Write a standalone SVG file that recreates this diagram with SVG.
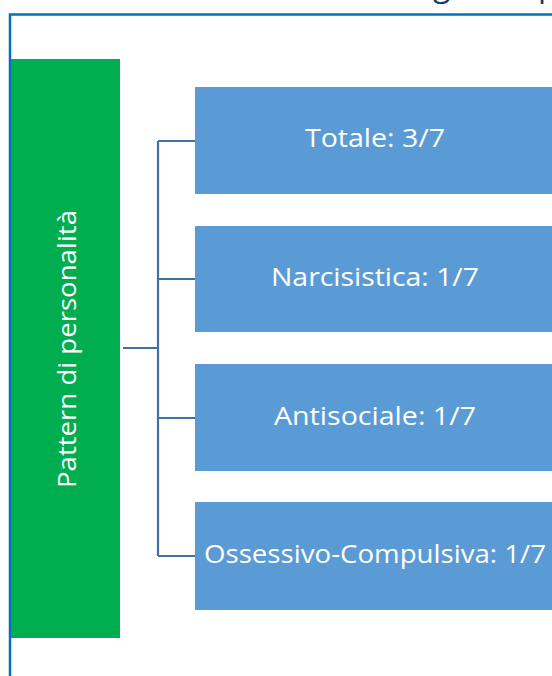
<svg xmlns="http://www.w3.org/2000/svg" width="552" height="676" viewBox="0 0 552 676">
  <style>
    .frame { stroke: #0070C0; stroke-width: 2.5; fill: none; }
    .root { fill: #00AD4F; }
    .leaf { fill: #5B9BD5; }
    .label { font-family: "Open Sans", "Noto Sans", sans-serif; font-size: 26px; fill: #FFFFFF; text-anchor: middle; }
    .title { font-family: "Open Sans", "Noto Sans", sans-serif; font-size: 32px; fill: #1A3A6B; }
    .link { stroke: #41719C; stroke-width: 2.2; fill: none; }
  </style>

  <rect width="552" height="676" fill="#FFFFFF"/>

  <!-- heading, mostly above the visible area -->
  <text class="title" x="433" y="-4">g</text>
  <text class="title" x="538" y="-4">p</text>

  <!-- slide frame -->
  <path class="frame" d="M10 676 V14.5 H552"/>

  <!-- connectors -->
  <g id="connectors">
    <path class="link" d="M123 348 H158"/>
    <path class="link" d="M158 141 V556"/>
    <path class="link" d="M158 141 H195"/>
    <path class="link" d="M158 279 H195"/>
    <path class="link" d="M158 418 H195"/>
    <path class="link" d="M158 556 H195"/>
  </g>

  <g id="pattern">
    <rect class="root" x="11" y="59" width="109" height="579"/>
    <text class="label" transform="translate(76 349) rotate(-90)" textLength="278" lengthAdjust="spacingAndGlyphs">Pattern di personalità</text>
  </g>

  <g id="totale">
    <rect class="leaf" x="195" y="87" width="360" height="107"/>
    <text class="label" x="375" y="147" textLength="140" lengthAdjust="spacingAndGlyphs">Totale: 3/7</text>
  </g>

  <g id="narcisistica">
    <rect class="leaf" x="195" y="226" width="360" height="106"/>
    <text class="label" x="375" y="286" textLength="208" lengthAdjust="spacingAndGlyphs">Narcisistica: 1/7</text>
  </g>

  <g id="antisociale">
    <rect class="leaf" x="195" y="364" width="360" height="107"/>
    <text class="label" x="375" y="425" textLength="202" lengthAdjust="spacingAndGlyphs">Antisociale: 1/7</text>
  </g>

  <g id="ossessivo">
    <rect class="leaf" x="195" y="502" width="360" height="108"/>
    <text class="label" x="375" y="563" textLength="342" lengthAdjust="spacingAndGlyphs">Ossessivo-Compulsiva: 1/7</text>
  </g>
</svg>
